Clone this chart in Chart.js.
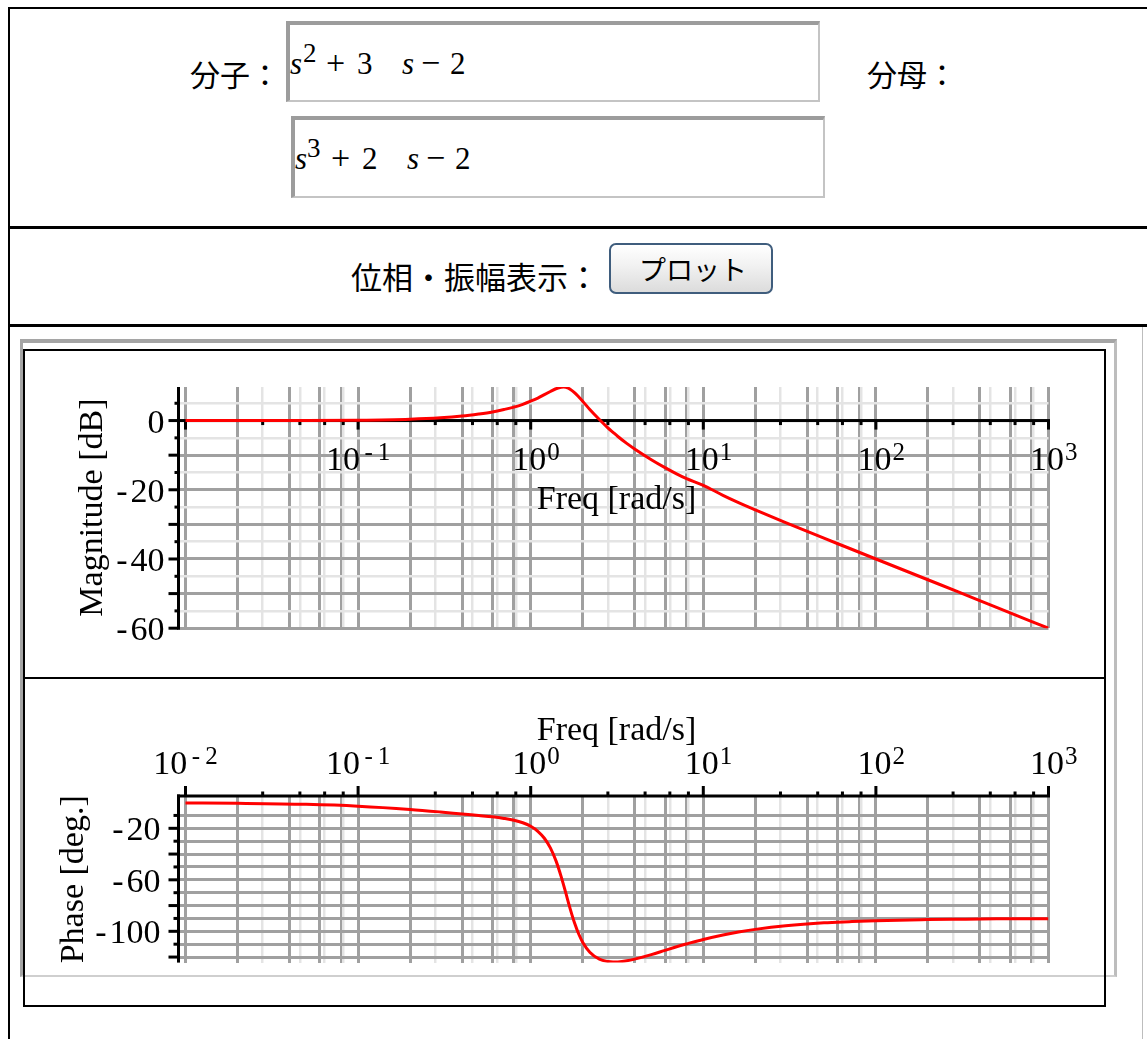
<!DOCTYPE html>
<html lang="ja">
<head>
<meta charset="utf-8">
<title>ボード線図</title>
<script src="https://cdn.jsdelivr.net/npm/chart.js@4.4.1/dist/chart.umd.min.js"></script>
<style>
  html, body { margin: 0; padding: 0; background: #fff; }
  body { position: relative; width: 1147px; height: 1039px; overflow: hidden; }
  .rule { position: absolute; background: #000; }
  .cjk { position: absolute; font-family: "Noto Sans CJK JP", sans-serif; color: #000; white-space: nowrap; line-height: 1; }
  .field { position: absolute; box-sizing: border-box; background: #fff;
           border-top: 4px solid #9c9c9c; border-left: 4px solid #9c9c9c;
           border-right: 2px solid #c4c4c4; border-bottom: 2px solid #c4c4c4; }
  .mt { position: absolute; font-family: "Liberation Serif", "Times New Roman", serif; font-size: 31px; line-height: 1; color: #000; white-space: nowrap; }
  .mt.it { font-style: italic; }
  .mt.sup { font-size: 27px; }
  .mt.op { font-size: 34px; }
  .btn { position: absolute; left: 609px; top: 243px; width: 164px; height: 51px; box-sizing: border-box;
         border: 2px solid #3f5d7d; border-radius: 7px;
         background: linear-gradient(#ffffff, #f1f1f1 45%, #dcdcdc);
         display: flex; align-items: center; justify-content: center; padding-left: 4px;
         font-family: "Noto Sans CJK JP", sans-serif; font-size: 27px; font-weight: 400; color: #000; }
  .frame-gray { position: absolute; left: 20px; top: 339px; width: 1097px; height: 638px; box-sizing: border-box;
                border-top: 4px solid #a5a5a5; border-left: 3px solid #a5a5a5;
                border-right: 3px solid #bdbdbd; border-bottom: 2px solid #cfcfcf; }
  .frame-black { position: absolute; left: 23px; top: 349px; width: 1083px; height: 658px; box-sizing: border-box;
                 border: 2px solid #000; }
  canvas { position: absolute; left: 0; }
</style>
</head>
<body>
  <!-- form table rules -->
  <div class="rule" style="left:8px; top:7px; width:1139px; height:2px;"></div>
  <div class="rule" style="left:8px; top:7px; width:2px; height:1032px;"></div>
  <div class="rule" style="left:8px; top:226px; width:1139px; height:3px;"></div>
  <div class="rule" style="left:8px; top:324px; width:1139px; height:3px;"></div>
  <div class="rule" style="left:1142px; top:327px; width:1px; height:712px; background:#bdbdbd;"></div>

  <!-- numerator / denominator -->
  <div class="cjk" style="left:190px; top:58px; font-size:30px;">分子：</div>
  <div class="field" style="left:286px; top:21px; width:534px; height:81px;"></div>
  <span class="mt it" style="left:290px; top:48px;">s</span>
  <span class="mt sup" style="left:303px; top:40px;">2</span>
  <span class="mt op" style="left:326px; top:45.5px;">+</span>
  <span class="mt" style="left:357px; top:48px;">3</span>
  <span class="mt it" style="left:402px; top:48px;">s</span>
  <span class="mt op" style="left:421px; top:45.5px;">&#8722;</span>
  <span class="mt" style="left:450px; top:48px;">2</span>

  <div class="cjk" style="left:867px; top:58px; font-size:30px;">分母：</div>
  <div class="field" style="left:291px; top:116px; width:534px; height:82px;"></div>
  <span class="mt it" style="left:295px; top:143px;">s</span>
  <span class="mt sup" style="left:307px; top:135px;">3</span>
  <span class="mt op" style="left:331px; top:140.5px;">+</span>
  <span class="mt" style="left:362px; top:143px;">2</span>
  <span class="mt it" style="left:407px; top:143px;">s</span>
  <span class="mt op" style="left:426px; top:140.5px;">&#8722;</span>
  <span class="mt" style="left:455px; top:143px;">2</span>

  <!-- plot button row -->
  <div class="cjk" style="left:351px; top:260px; font-size:31px;">位相・振幅表示：</div>
  <div class="btn">プロット</div>

  <!-- plot frames -->
  <div class="frame-gray"></div>
  <div class="frame-black"></div>
  <div class="rule" style="left:23px; top:677px; width:1083px; height:2px;"></div>

  <canvas id="mag" width="1147" height="340" style="top:340px;"></canvas>
  <canvas id="phase" width="1147" height="300" style="top:690px;"></canvas>

<script>
// Frequency response of G(s) = (s^2 + 3s - 2) / (s^3 + 2s - 2)
const freq = [0.01, 0.02, 0.05, 0.1, 0.2, 0.3, 0.4, 0.5, 0.6, 0.7, 0.8, 0.9,
              1.0, 1.1, 1.2, 1.3, 1.4, 1.5, 1.55, 1.6, 1.7, 1.8, 1.9, 2.0,
              2.2, 2.5, 2.8, 3.0, 3.2, 3.6, 4, 5, 6, 7, 8, 10,
              13, 16, 20, 30, 50, 70, 100, 200, 300, 500, 1000];
const magDb = [0.0, 0.0, 0.0, 0.1, 0.4, 0.8, 1.3, 1.9, 2.5, 3.2, 3.9, 4.7,
               5.6, 6.5, 7.5, 8.4, 9.2, 9.6, 9.7, 9.6, 9.0, 8.0, 6.8, 5.6,
               3.2, 0.3, -2.1, -3.4, -4.6, -6.6, -8.2, -11.3, -13.6, -15.4, -16.8, -18.7,
               -21.6, -23.7, -25.8, -29.5, -34.0, -36.9, -40.0, -46.0, -49.5, -54.0, -60.0];
const phaseDeg = [-0.3, -0.6, -1.4, -2.8, -5.3, -7.3, -8.9, -10.1, -11.1, -12.3, -13.7, -15.7,
                  -18.4, -22.3, -27.7, -35.2, -45.1, -57.3, -63.9, -70.6, -83.3, -94.0, -102.3, -108.4,
                  -116.2, -121.6, -123.5, -123.9, -123.8, -122.9, -121.6, -118.1, -114.8, -112.0, -109.8, -106.3,
                  -102.8, -100.5, -98.5, -95.7, -93.4, -92.5, -91.7, -90.9, -90.6, -90.3, -90.2];

// axis labelling
const magExponents = [-1, 0, 1, 2, 3];
const phaseExponents = [-2, -1, 0, 1, 2, 3];
const magTickLabels = [0, -20, -40, -60];
const phaseTickLabels = [-20, -60, -100];

// grid layout within one decade
const darkMantissas = [1, 2, 4, 6, 8];
const lightMantissas = [2.8, 4.6, 6.4, 8.2];

const DARK = '#a0a0a0';
const LIGHT = '#e4e4e4';
const SERIF = '"Liberation Serif", "Times New Roman", serif';
const font = n => n + 'px ' + SERIF;

function freqGrid() {
  const t = [];
  for (let e = -2; e <= 2; e++) {
    const b = Math.pow(10, e);
    darkMantissas.forEach(m => t.push({ value: m * b, light: false }));
    lightMantissas.forEach(m => t.push({ value: m * b, light: true }));
  }
  t.push({ value: 1000, light: false });
  return t.sort((p, q) => p.value - q.value);
}

function minorTickValues() {
  const v = [];
  for (let e = -2; e <= 2; e++) lightMantissas.forEach(m => v.push(m * Math.pow(10, e)));
  return v;
}

// "-20" is set with a hair space after the sign
const signed = v => (v < 0 ? '-\u200A' + (-v) : String(v));

function powerLabel(ctx, px, baseline, e) {
  ctx.font = font(34);
  const wBase = ctx.measureText('10').width;
  const expText = e < 0 ? '-\u2009' + (-e) : String(e);
  ctx.font = font(25);
  const wExp = ctx.measureText(expText).width;
  const gap = e < 0 ? 4.5 : 1;
  const start = e < 0 ? px - (wBase + gap + wExp) / 2 : px - wBase / 2 - 1.5;
  ctx.textAlign = 'left';
  ctx.font = font(34);
  ctx.fillText('10', start, baseline);
  ctx.font = font(25);
  ctx.fillText(expText, start + wBase + gap, baseline - 10.5);
}

const xScale = {
  type: 'logarithmic',
  min: 0.009109,
  max: 1000,
  afterBuildTicks(s) { s.ticks = freqGrid(); },
  afterFit(s) { s.height = 0; },
  ticks: { display: false, autoSkip: false },
  border: { display: false },
  grid: {
    drawTicks: false,
    color: c => (c.tick && c.tick.light ? LIGHT : DARK),
    lineWidth: c => (c.tick && c.tick.light ? 2.5 : 3)
  }
};

function yScale(min, max, values, lightTest) {
  return {
    type: 'linear',
    min, max,
    afterBuildTicks(s) { s.ticks = values.map(v => ({ value: v, light: lightTest(v) })); },
    afterFit(s) { s.width = 0; },
    ticks: { display: false, autoSkip: false },
    border: { display: false },
    grid: {
      drawTicks: false,
      color: c => (c.tick && c.tick.light ? LIGHT : DARK),
      lineWidth: c => (c.tick && c.tick.light ? 2.5 : 3)
    }
  };
}

const magGridValues = [];
for (let v = 5; v >= -60; v -= 5) magGridValues.push(v);
const phaseGridValues = [];
for (let v = -10; v >= -120; v -= 10) phaseGridValues.push(v);

const magAxes = {
  id: 'magAxes',
  beforeDatasetsDraw(chart) {
    const { ctx, chartArea: a, scales: { x, y } } = chart;
    ctx.save();
    ctx.fillStyle = '#000';
    ctx.textBaseline = 'alphabetic';
    // vertical axis with ticks every 5 dB
    ctx.fillRect(a.left - 1.5, a.top, 3, a.bottom - a.top + 1.5);
    for (let v = -60; v <= 5; v += 5) {
      const py = y.getPixelForValue(v);
      const len = v % 10 === 0 ? 10 : 4;
      ctx.fillRect(a.left - len, py - 1.5, len, 3);
    }
    ctx.font = font(34);
    ctx.textAlign = 'right';
    magTickLabels.forEach(v => ctx.fillText(signed(v), a.left - 14, y.getPixelForValue(v) + 12));
    // 0 dB line carries the frequency axis
    const y0 = y.getPixelForValue(0);
    ctx.fillRect(a.left, y0 - 1.5, a.right - a.left + 1.5, 3);
    for (let e = -2; e <= 3; e++) {
      const px = x.getPixelForValue(Math.pow(10, e));
      ctx.fillRect(px - 1.5, y0, 3, 9);
    }
    minorTickValues().forEach(v => {
      const px = x.getPixelForValue(v);
      ctx.fillRect(px - 1.5, y0, 3, 4.5);
    });
    magExponents.forEach(e => powerLabel(ctx, x.getPixelForValue(Math.pow(10, e)), y0 + 49.5, e));
    ctx.font = font(34);
    ctx.textAlign = 'center';
    ctx.fillText('Freq [rad/s]', (a.left + a.right) / 2 + 3, y0 + 88);
    // vertical title
    ctx.translate(102, (a.top + a.bottom) / 2);
    ctx.rotate(-Math.PI / 2);
    ctx.fillText('Magnitude [dB]', 0, 0);
    ctx.restore();
  }
};

const phaseAxes = {
  id: 'phaseAxes',
  beforeDatasetsDraw(chart) {
    const { ctx, chartArea: a, scales: { x, y } } = chart;
    ctx.save();
    ctx.fillStyle = '#000';
    ctx.textBaseline = 'alphabetic';
    ctx.fillRect(a.left - 1.5, a.top - 1.5, 3, a.bottom - a.top + 1.5);
    for (let v = -120; v <= -10; v += 10) {
      const py = y.getPixelForValue(v);
      const len = v % 20 === 0 ? 10 : 5;
      ctx.fillRect(a.left - len, py - 1.5, len, 3);
    }
    ctx.font = font(34);
    ctx.textAlign = 'right';
    phaseTickLabels.forEach(v => ctx.fillText(signed(v), a.left - 18, y.getPixelForValue(v) + 12));
    // frequency axis along the top edge
    const yt = a.top;
    ctx.fillRect(a.left - 1.5, yt - 1.5, a.right - a.left + 3, 3);
    for (let e = -2; e <= 3; e++) {
      const px = x.getPixelForValue(Math.pow(10, e));
      ctx.fillRect(px - 1.5, yt - 10, 3, 10);
    }
    minorTickValues().forEach(v => {
      const px = x.getPixelForValue(v);
      ctx.fillRect(px - 1.5, yt - 4.5, 3, 4.5);
    });
    phaseExponents.forEach(e => powerLabel(ctx, x.getPixelForValue(Math.pow(10, e)), yt - 22, e));
    ctx.font = font(34);
    ctx.textAlign = 'center';
    ctx.fillText('Freq [rad/s]', (a.left + a.right) / 2 + 3, yt - 56);
    ctx.translate(83, (a.top + a.bottom) / 2);
    ctx.rotate(-Math.PI / 2);
    ctx.fillText('Phase [deg.]', 0, 0);
    ctx.restore();
  }
};

function curve(values) {
  return {
    data: freq.map((f, i) => ({ x: f, y: values[i] })),
    borderColor: '#ff0000',
    borderWidth: 3,
    pointRadius: 0,
    fill: false,
    cubicInterpolationMode: 'monotone'
  };
}

const common = {
  responsive: false,
  animation: false,
  events: [],
  devicePixelRatio: 1,
  plugins: { legend: { display: false }, tooltip: { enabled: false }, title: { display: false } }
};

new Chart(document.getElementById('mag'), {
  type: 'line',
  data: { datasets: [curve(magDb)] },
  options: Object.assign({}, common, {
    layout: { padding: { left: 178.5, right: 98.5, top: 47, bottom: 51.8 } },
    scales: {
      x: xScale,
      y: yScale(-60, 9.7, magGridValues, v => Math.abs(v % 10) === 5)
    }
  }),
  plugins: [magAxes]
});

new Chart(document.getElementById('phase'), {
  type: 'line',
  data: { datasets: [curve(phaseDeg)] },
  options: Object.assign({}, common, {
    layout: { padding: { left: 178.5, right: 98.5, top: 106, bottom: 27.4 } },
    scales: {
      x: xScale,
      y: yScale(-124.3, 5.1, phaseGridValues, () => false)
    }
  }),
  plugins: [phaseAxes]
});
</script>
</body>
</html>
